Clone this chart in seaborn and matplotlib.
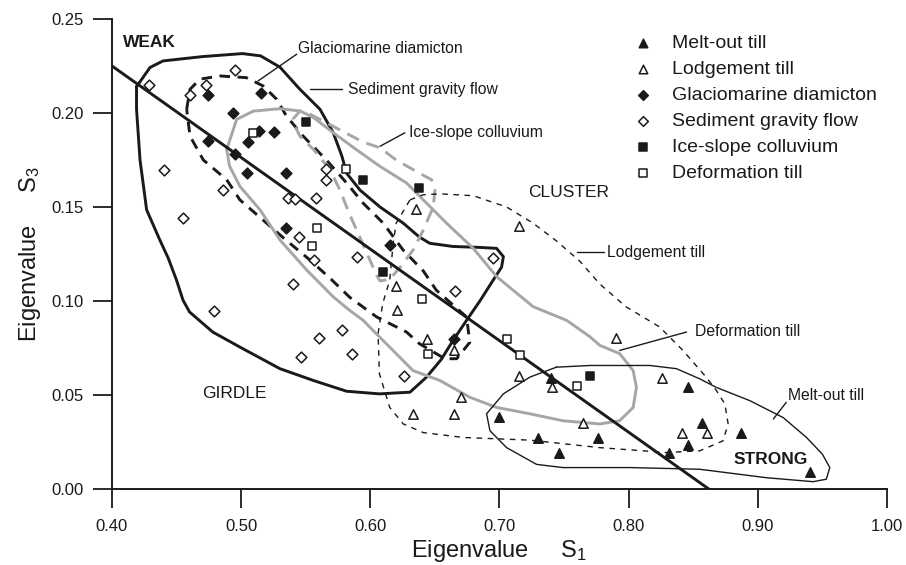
import matplotlib
matplotlib.use("Agg")
import matplotlib.pyplot as plt
import seaborn as sns
import numpy as np
import pandas as pd

# ---------------- data ----------------
melt_x = [0.740, 0.700, 0.730, 0.776, 0.746, 0.846, 0.857, 0.846, 0.831, 0.887, 0.940]
melt_y = [0.059, 0.0385, 0.027, 0.027, 0.019, 0.0545, 0.035, 0.0235, 0.0194, 0.030, 0.0093]

lodg_x = [0.635, 0.715, 0.620, 0.621, 0.644, 0.665, 0.715, 0.741, 0.670, 0.633, 0.665, 0.765,
          0.790, 0.826, 0.841, 0.861]
lodg_y = [0.149, 0.140, 0.108, 0.095, 0.080, 0.074, 0.060, 0.0545, 0.049, 0.040, 0.040, 0.035,
          0.0805, 0.059, 0.030, 0.030]

glac_x = [0.4745, 0.515, 0.494, 0.514, 0.5256, 0.4745, 0.5055, 0.495, 0.5047, 0.535, 0.535, 0.615, 0.665]
glac_y = [0.2094, 0.2105, 0.1998, 0.1903, 0.190, 0.185, 0.1847, 0.178, 0.168, 0.168, 0.139, 0.130, 0.080]

sgf_x = [0.429, 0.495, 0.473, 0.460, 0.440, 0.486, 0.455, 0.566, 0.566, 0.536, 0.542, 0.558,
         0.545, 0.556, 0.590, 0.695, 0.6655, 0.578, 0.586, 0.626, 0.479, 0.540, 0.560, 0.546]
sgf_y = [0.215, 0.2228, 0.2147, 0.2094, 0.1695, 0.159, 0.144, 0.170, 0.1645, 0.1547, 0.1544, 0.1547,
         0.134, 0.122, 0.1236, 0.123, 0.1054, 0.0844, 0.072, 0.060, 0.0946, 0.109, 0.0803, 0.0703]

isc_x = [0.550, 0.5945, 0.638, 0.610, 0.770]
isc_y = [0.195, 0.1645, 0.160, 0.1155, 0.060]

deft_x = [0.509, 0.581, 0.559, 0.555, 0.640, 0.645, 0.706, 0.716, 0.760]
deft_y = [0.1895, 0.170, 0.139, 0.129, 0.1013, 0.0716, 0.080, 0.0714, 0.055]

series = ["Melt-out till", "Lodgement till", "Glaciomarine diamicton",
          "Sediment gravity flow", "Ice-slope colluvium", "Deformation till"]

x_ticks = [0.40, 0.50, 0.60, 0.70, 0.80, 0.90, 1.00]
y_ticks = [0.00, 0.05, 0.10, 0.15, 0.20, 0.25]

# envelopes (hand-drawn fields)
env_sgf_x = [0.419, 0.4294, 0.4395, 0.470, 0.501, 0.515, 0.530, 0.5455, 0.561, 0.5713, 0.578, 0.5816,
             0.592, 0.6075, 0.6255, 0.638, 0.646, 0.664, 0.6848, 0.6977, 0.703, 0.7016, 0.695, 0.6848,
             0.6745, 0.664, 0.655, 0.6435, 0.6307, 0.607, 0.5816, 0.556, 0.530, 0.499, 0.478, 0.460,
             0.455, 0.450, 0.4436, 0.437, 0.4268, 0.4217, 0.419, 0.419]
env_sgf_y = [0.214, 0.2242, 0.2277, 0.2300, 0.2316, 0.2304, 0.2244, 0.2126, 0.202, 0.1895, 0.177, 0.168,
             0.159, 0.150, 0.1414, 0.134, 0.1307, 0.129, 0.1285, 0.128, 0.1236, 0.118, 0.111, 0.100,
             0.0897, 0.079, 0.069, 0.0595, 0.0515, 0.0506, 0.052, 0.0577, 0.064, 0.0755, 0.0835, 0.0942,
             0.1004, 0.111, 0.1227, 0.1325, 0.1485, 0.175, 0.202, 0.214]

env_glac_x = [0.4578, 0.4604, 0.468, 0.4836, 0.504, 0.517, 0.5275, 0.535, 0.548, 0.566, 0.5816, 0.5945,
              0.610, 0.6255, 0.641, 0.651, 0.6745, 0.677, 0.6668, 0.6577, 0.638, 0.628, 0.6049, 0.584,
              0.569, 0.552, 0.533, 0.5197, 0.499, 0.4888, 0.4707, 0.4604, 0.4578]
env_glac_y = [0.202, 0.2126, 0.218, 0.2197, 0.2188, 0.2144, 0.2073, 0.1984, 0.1877, 0.175, 0.1628, 0.152,
              0.1414, 0.127, 0.116, 0.1058, 0.0915, 0.078, 0.0693, 0.0693, 0.0773, 0.0835, 0.0915, 0.102,
              0.112, 0.1225, 0.1334, 0.1414, 0.1538, 0.1645, 0.175, 0.1877, 0.202]

env_isc_x = [0.553, 0.5765, 0.5945, 0.6075, 0.620, 0.638, 0.6474, 0.650, 0.6487, 0.641, 0.633, 0.623,
             0.615, 0.6075, 0.605, 0.600, 0.592, 0.584, 0.5765, 0.5687, 0.556, 0.5455, 0.5416, 0.540,
             0.5455, 0.553]
env_isc_y = [0.1995, 0.191, 0.1845, 0.1815, 0.175, 0.168, 0.1645, 0.159, 0.150, 0.1377, 0.127, 0.118,
             0.1115, 0.1107, 0.1135, 0.1213, 0.1337, 0.146, 0.159, 0.170, 0.1806, 0.1877, 0.193, 0.1966,
             0.2011, 0.1995]

env_deft_x = [0.4888, 0.4965, 0.5094, 0.530, 0.5455, 0.556, 0.5713, 0.589, 0.6075, 0.628, 0.6436, 0.659,
              0.6797, 0.6977, 0.726, 0.752, 0.770, 0.7777, 0.793, 0.8035, 0.806, 0.8035, 0.793, 0.7777,
              0.749, 0.7235, 0.6977, 0.677, 0.6539, 0.633, 0.620, 0.602, 0.5945, 0.584, 0.5713, 0.5507,
              0.530, 0.5146, 0.499, 0.491, 0.4888]
env_deft_y = [0.1806, 0.1966, 0.201, 0.2023, 0.2011, 0.1976, 0.1895, 0.1806, 0.1716, 0.1628, 0.152, 0.1414,
              0.128, 0.113, 0.097, 0.0897, 0.081, 0.0764, 0.072, 0.063, 0.0541, 0.0434, 0.0363, 0.0346,
              0.0363, 0.040, 0.0434, 0.0488, 0.0577, 0.063, 0.072, 0.0844, 0.0897, 0.095, 0.1022, 0.1165,
              0.1325, 0.1485, 0.161, 0.1718, 0.1806]

env_lodg_x = [0.6307, 0.641, 0.654, 0.6797, 0.7055, 0.726, 0.744, 0.762, 0.7777, 0.798, 0.824, 0.842,
              0.860, 0.868, 0.8745, 0.877, 0.873, 0.855, 0.829, 0.7777, 0.7235, 0.672, 0.641, 0.6255,
              0.615, 0.607, 0.606, 0.6096, 0.615, 0.6177, 0.620, 0.6307]
env_lodg_y = [0.1538, 0.1565, 0.157, 0.156, 0.150, 0.1414, 0.132, 0.1213, 0.109, 0.0969, 0.0862, 0.0737,
              0.0595, 0.0523, 0.0452, 0.0346, 0.0256, 0.0203, 0.0194, 0.022, 0.026, 0.0274, 0.030, 0.0346,
              0.0434, 0.0613, 0.0826, 0.0987, 0.111, 0.1307, 0.1414, 0.1538]

env_melt_x = [0.744, 0.7235, 0.703, 0.690, 0.6926, 0.7055, 0.7287, 0.749, 0.801, 0.855, 0.9067, 0.9428,
              0.953, 0.9557, 0.950, 0.9377, 0.9196, 0.8938, 0.868, 0.855, 0.837, 0.8164, 0.770, 0.744]
env_melt_y = [0.0648, 0.0595, 0.0506, 0.040, 0.031, 0.022, 0.0131, 0.0114, 0.0114, 0.0105, 0.006, 0.0039,
              0.0052, 0.0114, 0.0185, 0.0274, 0.038, 0.047, 0.054, 0.0586, 0.064, 0.0657, 0.0657, 0.0648]

trend_x = [0.40, 0.862]
trend_y = [0.225, 0.0]

# ---------------- figure ----------------
sns.set_style("ticks")
plt.rcParams["font.family"] = ["Liberation Sans", "DejaVu Sans"]
plt.rcParams["mathtext.fontset"] = "custom"
plt.rcParams["mathtext.rm"] = "Liberation Sans"
plt.rcParams["mathtext.it"] = "Liberation Sans:italic"

fig = plt.figure(figsize=(9.06, 5.65), dpi=100)
ax = fig.add_axes([112 / 906, 1 - 489 / 565, 775 / 906, 470 / 565])

BLACK = "#1a1a1a"
GRAY = "#a6a6a6"


def path(xs, ys, **kw):
    sns.lineplot(x=xs, y=ys, sort=False, estimator=None, ax=ax, legend=False, **kw)


path(env_sgf_x, env_sgf_y, color=BLACK, lw=2.1, zorder=2)
path(env_glac_x, env_glac_y, color=BLACK, lw=2.1, linestyle=(0, (3.6, 2.6)), zorder=2)
path(env_isc_x, env_isc_y, color=GRAY, lw=2.1, linestyle=(0, (4.5, 2.8)), zorder=2)
path(env_deft_x, env_deft_y, color=GRAY, lw=2.1, zorder=2)
path(env_lodg_x, env_lodg_y, color=BLACK, lw=1.0, linestyle=(0, (4, 4)), zorder=2)
path(env_melt_x, env_melt_y, color=BLACK, lw=1.0, zorder=2)
path(trend_x, trend_y, color=BLACK, lw=2.1, zorder=2)

styles = [
    (melt_x, melt_y, "^", BLACK, 46),
    (lodg_x, lodg_y, "^", "white", 46),
    (glac_x, glac_y, "D", BLACK, 30),
    (sgf_x, sgf_y, "D", "white", 30),
    (isc_x, isc_y, "s", BLACK, 36),
    (deft_x, deft_y, "s", "white", 36),
]
for name, (xs, ys, mk, fc, sz) in zip(series, styles):
    df = pd.DataFrame({"x": xs, "y": ys})
    sns.scatterplot(data=df, x="x", y="y", marker=mk, s=sz, color=fc, edgecolor=BLACK,
                    linewidth=1.1, ax=ax, label=name, zorder=4)

ax.set_xlim(0.40, 1.00)
ax.set_ylim(0.00, 0.25)
ax.set_xticks(x_ticks)
ax.set_yticks(y_ticks)
ax.set_xticklabels([f"{v:.2f}" for v in x_ticks])
ax.set_yticklabels([f"{v:.2f}" for v in y_ticks])
for s in ["top", "right"]:
    ax.spines[s].set_visible(False)
for s in ["left", "bottom"]:
    ax.spines[s].set_linewidth(1.4)
    ax.spines[s].set_color(BLACK)
ax.tick_params(direction="out", length=13.5, width=1.3, colors=BLACK, labelsize=12)
ax.tick_params(axis="x", pad=8.3)
ax.tick_params(axis="y", pad=7)

ax.set_xlabel("Eigenvalue     $\\mathregular{S_1}$", fontsize=17, color=BLACK, labelpad=2.5)
ax.set_ylabel("Eigenvalue     $\\mathregular{S_3}$", fontsize=17, color=BLACK, labelpad=6)

leg = ax.legend(loc="upper left", bbox_to_anchor=(0.672, 0.968), frameon=False, fontsize=14,
                handlelength=1.0, handletextpad=1.0, labelspacing=0.44, borderpad=0,
                borderaxespad=0, markerscale=0.9)
for t in leg.get_texts():
    t.set_color(BLACK)

tk = dict(color=BLACK, va="center", ha="left")
ax.text(0.4085, 0.2377, "WEAK", fontsize=12.5, fontweight="bold", **tk)
ax.text(0.881, 0.0158, "STRONG", fontsize=12.5, fontweight="bold", **tk)
ax.text(0.470, 0.0509, "GIRDLE", fontsize=12.5, **tk)
ax.text(0.722, 0.1576, "CLUSTER", fontsize=12.5, **tk)

ax.text(0.544, 0.2345, "Glaciomarine diamicton", fontsize=11.3, **tk)
ax.plot([0.513, 0.543], [0.217, 0.2313], color=BLACK, lw=1.0)
ax.text(0.5827, 0.2126, "Sediment gravity flow", fontsize=11.3, **tk)
ax.plot([0.553, 0.578], [0.2126, 0.2126], color=BLACK, lw=1.0)
ax.text(0.630, 0.1896, "Ice-slope colluvium", fontsize=11.3, **tk)
ax.plot([0.6075, 0.6268], [0.1823, 0.1895], color=BLACK, lw=1.0)
ax.text(0.783, 0.126, "Lodgement till", fontsize=11.3, **tk)
ax.plot([0.760, 0.7806], [0.126, 0.126], color=BLACK, lw=1.0)
ax.text(0.851, 0.084, "Deformation till", fontsize=11.3, **tk)
ax.plot([0.793, 0.8448], [0.0737, 0.0835], color=BLACK, lw=1.0)
ax.text(0.9234, 0.0497, "Melt-out till", fontsize=11.3, **tk)
ax.plot([0.912, 0.922], [0.0372, 0.0461], color=BLACK, lw=1.0)

fig.savefig("out.png", dpi=100)
